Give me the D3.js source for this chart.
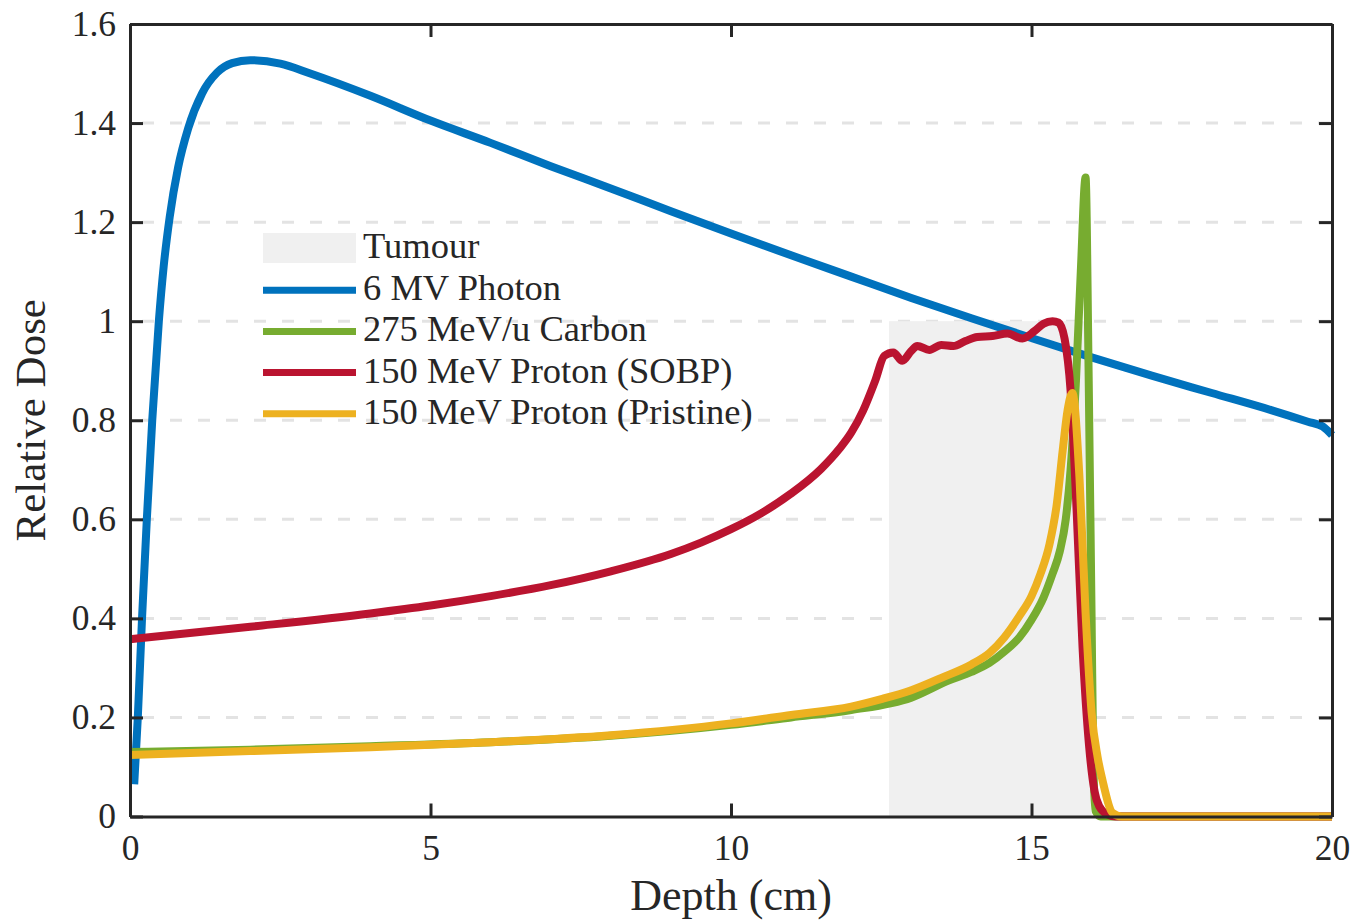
<!DOCTYPE html>
<html>
<head>
<meta charset="utf-8">
<script src="https://cdn.jsdelivr.net/npm/d3@7"></script>
<style>
  html, body { margin: 0; padding: 0; background: #fff; }
  svg text { font-family: "Liberation Serif", "Times New Roman", serif; fill: #262626; }
</style>
</head>
<body>
<svg class="chart"></svg>
<script>
// depth (cm) / relative dose
const photonDepth = [0.07, 0.13, 0.2, 0.28, 0.37, 0.48, 0.56, 0.66, 0.8, 0.97, 1.2, 1.45, 1.7, 2.0, 2.5, 3, 4, 5, 6, 7, 8, 9, 10, 11, 12, 13, 14, 15, 16, 17, 18, 19, 19.6, 19.85, 20];
const photonDose  = [0.065, 0.2, 0.4, 0.6, 0.8, 1.0, 1.11, 1.21, 1.31, 1.39, 1.46, 1.502, 1.521, 1.527, 1.52, 1.5, 1.455, 1.405, 1.36, 1.313, 1.268, 1.222, 1.177, 1.133, 1.09, 1.047, 1.006, 0.966, 0.927, 0.89, 0.855, 0.82, 0.797, 0.787, 0.77];

const carbonDepth = [0, 2, 4, 6, 8, 10, 11, 12, 13, 13.63, 14, 14.3, 14.55, 14.8, 15.0, 15.2, 15.35, 15.47, 15.57, 15.65, 15.74, 15.82, 15.9, 15.95, 16.0, 16.03, 16.07, 16.15, 20];
const carbonDose  = [0.13, 0.135, 0.142, 0.15, 0.163, 0.185, 0.2, 0.215, 0.24, 0.275, 0.292, 0.31, 0.333, 0.362, 0.397, 0.442, 0.49, 0.535, 0.6, 0.7, 0.88, 1.1, 1.29, 0.9, 0.4, 0.1, 0.01, 0, 0];

const sobpDepth = [0, 2, 4, 5, 6, 7, 8, 9, 9.5, 10, 10.5, 11, 11.5, 11.8, 12.0, 12.2, 12.4, 12.55, 12.7, 12.85, 13.0, 13.1, 13.3, 13.5, 13.7, 13.9, 14.1, 14.35, 14.6, 14.85, 15.05, 15.2, 15.35, 15.45, 15.55, 15.65, 15.75, 15.85, 15.96, 16.05, 16.13, 16.25, 16.4, 20];
const sobpDose  = [0.358, 0.383, 0.41, 0.426, 0.445, 0.467, 0.495, 0.53, 0.553, 0.58, 0.612, 0.652, 0.702, 0.742, 0.775, 0.82, 0.88, 0.93, 0.937, 0.92, 0.94, 0.95, 0.942, 0.952, 0.95, 0.96, 0.968, 0.97, 0.975, 0.965, 0.98, 0.995, 1.0, 0.997, 0.965, 0.86, 0.62, 0.34, 0.14, 0.05, 0.02, 0.005, 0, 0];

const pristineDepth = [0, 2, 4, 6, 8, 10, 11, 12, 12.5, 13, 13.5, 14, 14.3, 14.55, 14.8, 15.0, 15.15, 15.3, 15.42, 15.52, 15.6, 15.68, 15.8, 15.9, 16.0, 16.1, 16.18, 16.35, 16.5, 20];
const pristineDose  = [0.124, 0.132, 0.14, 0.15, 0.164, 0.188, 0.205, 0.222, 0.237, 0.255, 0.28, 0.307, 0.33, 0.362, 0.405, 0.445, 0.49, 0.55, 0.63, 0.74, 0.82, 0.855, 0.68, 0.41, 0.21, 0.12, 0.074, 0.007, 0, 0];

const tumourRange = [12.63, 16.0];
const tumourDose = 1.0;

const seriesNames = ["6 MV Photon", "275 MeV/u Carbon", "150 MeV Proton (SOBP)", "150 MeV Proton (Pristine)"];
const seriesColors = ["#0072BD", "#77AC30", "#BA1430", "#EDB120"];

const xTicks = [0, 5, 10, 15, 20];
const yTicks = [0, 0.2, 0.4, 0.6, 0.8, 1, 1.2, 1.4, 1.6];

const series = [
    d3.zip(photonDepth, photonDose),
    d3.zip(carbonDepth, carbonDose),
    d3.zip(sobpDepth, sobpDose),
    d3.zip(pristineDepth, pristineDose)
];

const W = 1356, H = 921;
const margin = {top: 24, right: 24, bottom: 104.5, left: 130};
const width = W - margin.left - margin.right;
const height = H - margin.top - margin.bottom;
const axisColor = "#262626";

const svg = d3.select(".chart")
    .attr("width", W)
    .attr("height", H);

const g = svg.append("g")
    .attr("transform", `translate(${margin.left},${margin.top})`);

const x = d3.scaleLinear().domain([0, 20]).range([0, width]);
const y = d3.scaleLinear().domain([0, 1.6]).range([height, 0]);

// grid
g.append("g")
    .selectAll("line")
    .data(yTicks.slice(1, -1))
    .enter()
    .append("line")
    .attr("x1", 0)
    .attr("x2", width)
    .attr("y1", d => y(d))
    .attr("y2", d => y(d))
    .attr("stroke", "#e3e3e3")
    .attr("stroke-width", 3)
    .attr("stroke-dasharray", "12,16")
    .attr("stroke-dashoffset", -12);

// tumour region
g.append("rect")
    .attr("x", x(tumourRange[0]))
    .attr("y", y(tumourDose))
    .attr("width", x(tumourRange[1]) - x(tumourRange[0]))
    .attr("height", y(0) - y(tumourDose))
    .attr("fill", "#f0f0f0");

const line = d3.line()
    .x(d => x(d[0]))
    .y(d => y(d[1]))
    .curve(d3.curveMonotoneX);

g.selectAll(".dose")
    .data(series)
    .enter()
    .append("path")
    .attr("class", "dose")
    .attr("d", line)
    .attr("fill", "none")
    .attr("stroke", (d, i) => seriesColors[i])
    .attr("stroke-width", 8)
    .attr("stroke-linejoin", "round");

// axes, ticks inside on all four sides
const styleAxis = (sel) =>
{
    sel.select(".domain").attr("stroke", axisColor).attr("stroke-width", 3);
    sel.selectAll(".tick line").attr("stroke", axisColor).attr("stroke-width", 3);
    sel.selectAll(".tick text")
        .attr("fill", axisColor)
        .style("font-family", "'Liberation Serif', serif")
        .style("font-size", "35.5px");
};

g.append("g")
    .attr("transform", `translate(0,${height})`)
    .call(d3.axisBottom(x).tickValues(xTicks).tickSizeInner(-13).tickSizeOuter(0).tickPadding(18))
    .call(styleAxis);

g.append("g")
    .call(d3.axisLeft(y).tickValues(yTicks).tickFormat(d3.format("~g")).tickSizeInner(-13).tickSizeOuter(0).tickPadding(14))
    .call(styleAxis);

g.append("g")
    .call(d3.axisTop(x).tickValues(xTicks).tickFormat("").tickSizeInner(-13).tickSizeOuter(0))
    .call(styleAxis);

g.append("g")
    .attr("transform", `translate(${width},0)`)
    .call(d3.axisRight(y).tickValues(yTicks).tickFormat("").tickSizeInner(-13).tickSizeOuter(0))
    .call(styleAxis);

// axis labels
svg.append("text")
    .attr("x", margin.left + width / 2)
    .attr("y", 910)
    .attr("text-anchor", "middle")
    .style("font-size", "44px")
    .text("Depth (cm)");

svg.append("text")
    .attr("transform", `translate(45,${margin.top + height / 2}) rotate(-90)`)
    .attr("text-anchor", "middle")
    .style("font-size", "43px")
    .text("Relative Dose");

// legend
const legend = svg.append("g").attr("transform", "translate(263,248)");
const rowH = 41.2;

legend.append("rect")
    .attr("x", 0)
    .attr("y", -15)
    .attr("width", 93)
    .attr("height", 30)
    .attr("fill", "#f0f0f0");

legend.append("text")
    .attr("x", 100)
    .attr("y", 10)
    .style("font-size", "36.5px")
    .text("Tumour");

seriesNames.forEach((name, i) =>
{
    const row = legend.append("g").attr("transform", `translate(0,${(i + 1) * rowH + 1})`);

    row.append("line")
        .attr("x1", 0)
        .attr("x2", 93)
        .attr("stroke", seriesColors[i])
        .attr("stroke-width", 7);

    row.append("text")
        .attr("x", 100)
        .attr("y", 10)
        .style("font-size", "36.5px")
        .text(name);
});
</script>
</body>
</html>
